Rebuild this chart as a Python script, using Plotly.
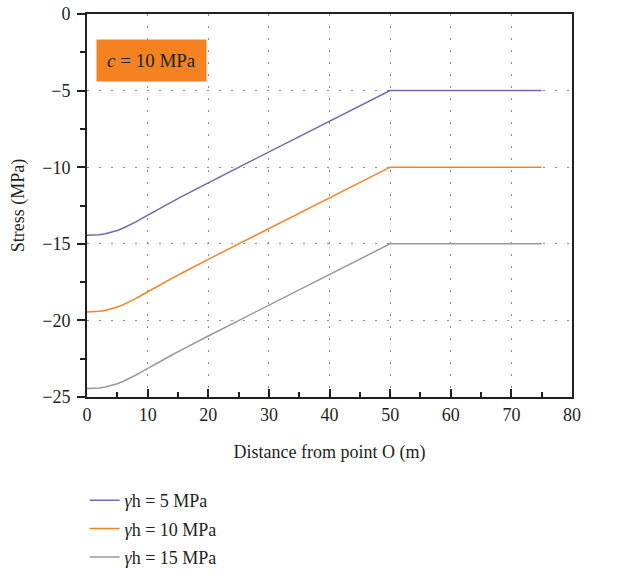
import plotly.graph_objects as go

# Data
x_vals = [0, 1, 2, 3, 4, 5, 6, 7, 8, 9, 10, 12, 14, 16, 18, 20, 25, 30, 35, 40, 45, 50, 55, 60, 65, 70, 75]
stress_5 = [-14.45, -14.44, -14.41, -14.35, -14.26, -14.13, -13.97, -13.79, -13.58, -13.36, -13.13,
            -12.69, -12.26, -11.84, -11.42, -11.02, -10.01, -9.0, -8.0, -7.0, -6.0, -5.0,
            -5.0, -5.0, -5.0, -5.0, -5.0]
stress_10 = [-19.45, -19.44, -19.41, -19.35, -19.26, -19.13, -18.97, -18.79, -18.58, -18.36, -18.13,
             -17.69, -17.26, -16.84, -16.42, -16.02, -15.01, -14.0, -13.0, -12.0, -11.0, -10.0,
             -10.0, -10.0, -10.0, -10.0, -10.0]
stress_15 = [-24.45, -24.44, -24.41, -24.35, -24.26, -24.13, -23.97, -23.79, -23.58, -23.36, -23.13,
             -22.69, -22.26, -21.84, -21.42, -21.02, -20.01, -19.0, -18.0, -17.0, -16.0, -15.0,
             -15.0, -15.0, -15.0, -15.0, -15.0]
series_names = ["<i>γ</i>h = 5 MPa", "<i>γ</i>h = 10 MPa", "<i>γ</i>h = 15 MPa"]
series_colors = ["#7466b0", "#f58220", "#999999"]

FONT = "Liberation Serif"
H = 576

fig = go.Figure()
for i, (ys, name, col) in enumerate(zip([stress_5, stress_10, stress_15], series_names, series_colors)):
    fig.add_trace(go.Scatter(x=x_vals, y=ys, mode="lines", name=name,
                             line=dict(color=col, width=1.5), legendgroup=f"g{i}"))

axis_common = dict(
    showline=True, linecolor="#231f20", linewidth=2, mirror=True,
    showgrid=True, gridcolor="#8c8c8c", gridwidth=1.2, griddash="2px,10px",
    zeroline=False, tickcolor="#231f20", tickwidth=2, automargin=False,
    tickfont=dict(family=FONT, size=18, color="#231f20"),
    title_font=dict(family=FONT, size=18, color="#231f20"),
)

fig.update_xaxes(range=[0, 80], dtick=10, ticks="inside", ticklen=8,
                 minor=dict(dtick=5, ticks="inside", ticklen=5, tickwidth=2, tickcolor="#231f20", showgrid=False),
                 title_text="Distance from point O (m)", title_standoff=22, **axis_common)
fig.update_yaxes(range=[-25, 0], dtick=5, ticks="outside", ticklen=8, ticklabelstandoff=3,
                 domain=[1 - 397 / H, 1 - 14 / H],
                 minor=dict(dtick=2.5, ticks="outside", ticklen=5, tickwidth=2, tickcolor="#231f20", showgrid=False),
                 title_text="Stress (MPa)", title_standoff=13, **axis_common)

fig.add_annotation(xref="x domain", yref="y domain", x=0.018, y=0.935, xanchor="left", yanchor="top",
                   text="<i>c</i> = 10 MPa", showarrow=False, bgcolor="#f58220",
                   font=dict(family=FONT, size=19, color="#231f20"), borderpad=10)

fig.update_layout(
    width=621, height=H,
    margin=dict(l=87, r=49, t=0, b=0),
    plot_bgcolor="white", paper_bgcolor="white",
    showlegend=True,
    legend=dict(x=-0.005, y=0, xanchor="left", yanchor="bottom",
                orientation="v", font=dict(family=FONT, size=18, color="#231f20"), tracegroupgap=2,
                bgcolor="rgba(0,0,0,0)"),
)

fig.write_html("out.html")
